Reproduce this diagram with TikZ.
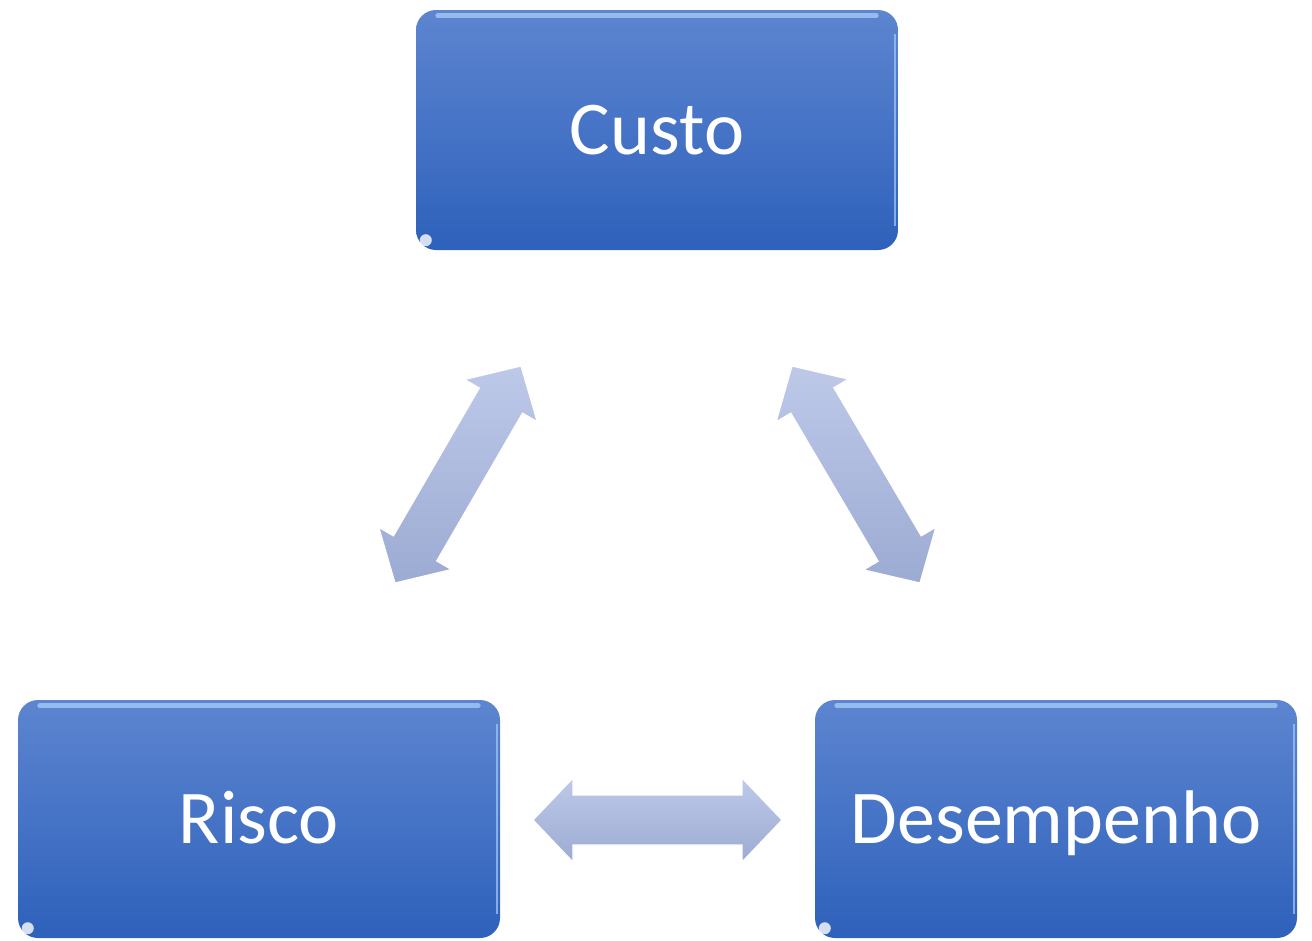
\documentclass[tikz,border=0pt]{standalone}
\usepackage{fontspec}
\setmainfont{Carlito}
\usetikzlibrary{calc}
\definecolor{boxtop}{RGB}{93,133,208}
\definecolor{boxbot}{RGB}{46,97,187}
\definecolor{boxhl}{RGB}{160,198,244}
\definecolor{arrtop}{RGB}{190,201,233}
\definecolor{arrbot}{RGB}{156,171,211}
\tikzset{
  box/.style={draw=none, rounded corners=20pt, top color=boxtop, bottom color=boxbot,
    minimum width=482pt, minimum height=240pt, inner sep=0pt, text=white,
    font=\fontsize{76}{90}\selectfont, text height=49pt, text depth=0pt},
  arrowbody/.style={top color=arrtop, bottom color=arrbot, draw=white, line width=1.2pt, line join=miter},
  highlight/.style={draw=boxhl, line width=5pt, line cap=round, opacity=0.85}
}
\newcommand{\dblarrowpath}[2]{%
  (#1) -- ($(#1)!40pt!(#2)!42pt!90:(#2)$) -- ($(#1)!40pt!(#2)!25pt!90:(#2)$)
  -- ($(#2)!40pt!(#1)!25pt!-90:(#1)$) -- ($(#2)!40pt!(#1)!42pt!-90:(#1)$)
  -- (#2) -- ($(#2)!40pt!(#1)!42pt!90:(#1)$) -- ($(#2)!40pt!(#1)!25pt!90:(#1)$)
  -- ($(#1)!40pt!(#2)!25pt!-90:(#2)$) -- ($(#1)!40pt!(#2)!42pt!-90:(#2)$) -- cycle}
\begin{document}
\begin{tikzpicture}[x=1pt, y=-1pt]
\useasboundingbox (0,0) rectangle (1312,940);
% boxes
\node[box] (custo) at (657,130) {Custo};
\node[box, minimum height=238pt] (risco) at (259,819) {Risco};
\node[box, minimum height=238pt] (desemp) at (1056,819) {Desempenho};
% highlights
\foreach \n in {custo,risco,desemp}{
  \draw[highlight] ($(\n.north west)+(22,6)$) -- ($(\n.north east)+(-22,6)$);
  \draw[draw=boxhl, line width=2.5pt, opacity=0.75] ($(\n.north east)+(-3,24)$) -- ($(\n.south east)+(-3,-24)$);
  \fill[white, opacity=0.8] ($(\n.south west)+(10,-10)$) circle (6pt);
}
% arrow end points
\coordinate (a1) at (395,583);
\coordinate (a2) at (521,366);
\coordinate (b1) at (792,366);
\coordinate (b2) at (920,583);
\coordinate (c1) at (533,820);
\coordinate (c2) at (782,820);
\path[arrowbody] \dblarrowpath{a1}{a2};
\path[arrowbody] \dblarrowpath{b1}{b2};
\path[arrowbody] \dblarrowpath{c1}{c2};
\end{tikzpicture}
\end{document}
